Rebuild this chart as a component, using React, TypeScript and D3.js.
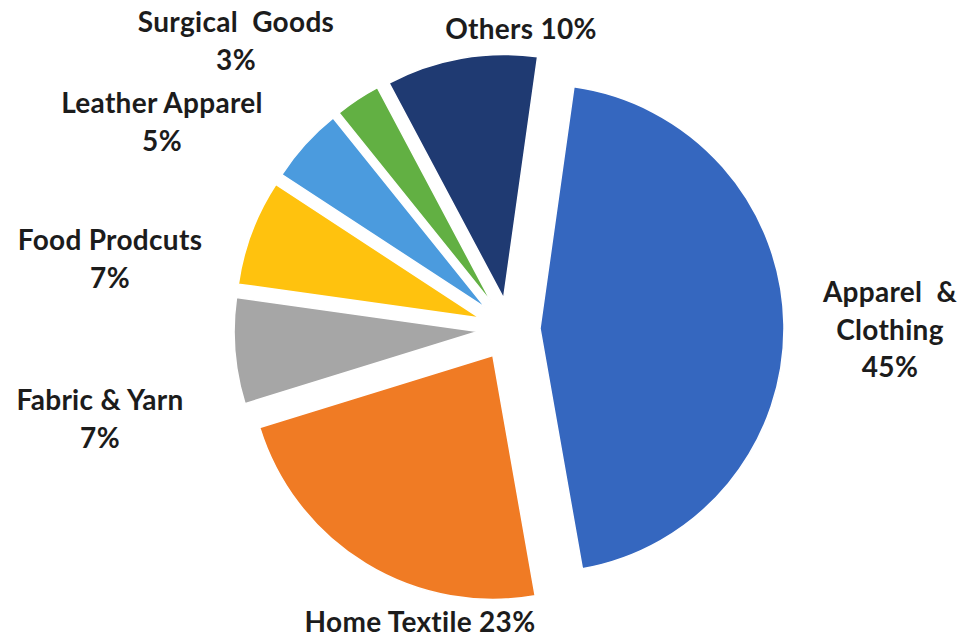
import React from "react";
import * as d3 from "d3";

const categories = [
  "Apparel & Clothing",
  "Home Textile",
  "Fabric & Yarn",
  "Food Prodcuts",
  "Leather Apparel",
  "Surgical Goods",
  "Others",
];
const shares = [45, 23, 7, 7, 5, 3, 10];
const colors = ["#3567BF", "#F07B24", "#A6A6A6", "#FFC20E", "#4B9BDE", "#62B043", "#1F3A72"];
// label lines per slice
const labelLines: string[][] = [
  ["Apparel\u00A0\u00A0&", "Clothing", "45%"],
  ["Home Textile 23%"],
  ["Fabric & Yarn", "7%"],
  ["Food Prodcuts", "7%"],
  ["Leather Apparel", "5%"],
  ["Surgical\u00A0\u00A0Goods", "3%"],
  ["Others 10%"],
];
// layout: label anchor (center x, first baseline y)
const labelAnchors: [number, number][] = [
  [890, 302],
  [420, 632],
  [100, 410],
  [110, 250],
  [162, 113],
  [236, 32],
  [521, 39],
];

const W = 962;
const H = 640;
const cx = 509;
const cy = 329;
const R = 244;
const explode = 31;
const startDeg = 8;
const lineH = 37.5;

export default function App() {
  const pie = d3
    .pie<number>()
    .sort(null)
    .value((d) => d)
    .startAngle((startDeg * Math.PI) / 180)
    .endAngle((startDeg * Math.PI) / 180 + 2 * Math.PI);
  const arcs = pie(shares);
  const arc = d3.arc<d3.PieArcDatum<number>>().innerRadius(0).outerRadius(R);

  return (
    <svg
      width={W}
      height={H}
      style={{ position: "absolute", left: 0, top: 0, background: "#fff" }}
    >
      <g transform={`translate(${cx},${cy})`}>
        {arcs.map((a, i) => {
          const mid = (a.startAngle + a.endAngle) / 2;
          const dx = Math.sin(mid) * explode;
          const dy = -Math.cos(mid) * explode;
          return (
            <path
              key={categories[i]}
              d={arc(a) || ""}
              transform={`translate(${dx},${dy})`}
              fill={colors[i]}
              stroke="#fff"
              strokeWidth={1.5}
            />
          );
        })}
      </g>
      <g
        fontFamily="Lato, 'Open Sans', sans-serif"
        fontWeight={700}
        fontSize={28}
        letterSpacing={0.3}
        fill="#1c1c1c"
        textAnchor="middle"
      >
        {labelLines.map((lines, i) => (
          <text key={categories[i]} x={labelAnchors[i][0]} y={labelAnchors[i][1]}>
            {lines.map((l, j) => (
              <tspan key={j} x={labelAnchors[i][0]} y={labelAnchors[i][1] + j * lineH}>
                {l}
              </tspan>
            ))}
          </text>
        ))}
      </g>
    </svg>
  );
}
